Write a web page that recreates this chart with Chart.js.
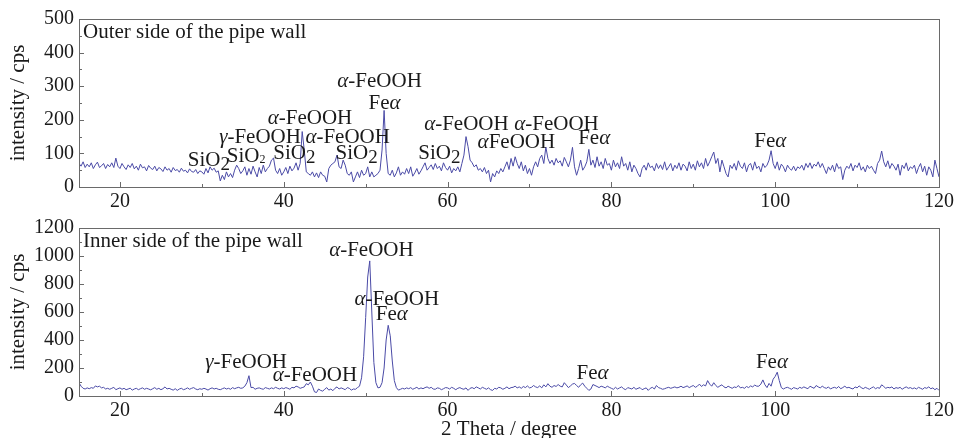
<!DOCTYPE html>
<html>
<head>
<meta charset="utf-8">
<script src="https://cdn.jsdelivr.net/npm/chart.js@4.4.0/dist/chart.umd.min.js"></script>
<style>
  body { margin: 0; background: #fff; }
  #wrap { position: relative; width: 957px; height: 438px; }
  .panel { position: absolute; left: 0; width: 957px; }
</style>
</head>
<body>
<div id="wrap">
  <div class="panel" style="top:0;height:210px"><canvas id="chart1"></canvas></div>
  <div class="panel" style="top:210px;height:228px"><canvas id="chart2"></canvas></div>
</div>
<script>
// 2 theta grid: 15 .. 120 in 0.25 degree steps
var angleStart = 15;
var angleStep = 0.25;

// outer side of the pipe wall, cps (4 values per degree, rows start at 15, 16, ...)
var outerIntensity = [
  70, 62, 75, 58,   68, 60, 72, 55,   66, 74, 58, 63,   70, 55, 67, 60,   72, 58, 86, 62,
  55, 70, 60, 52,   66, 58, 70, 54,   62, 50, 68, 57,   60, 48, 64, 56,   52, 62, 48, 58,
  54, 46, 60, 50,   55, 44, 58, 49,   52, 44, 56, 47,   50, 42, 54, 46,   44, 52, 40, 48,
  45, 38, 55, 42,   60, 50, 56, 44,   48, 18, 35, 22,   45, 30, 40, 28,   50, 65, 55, 40,
  48, 60, 35, 55,   38, 62, 45, 30,   58, 40, 65, 45,   55, 62, 80, 86,   50, 40, 55, 35,
  45, 58, 40, 62,   48, 56, 72, 50,   70, 165, 110, 45, 40, 35, 45, 30,   42, 28, 45, 35,
  32, 15, 55, 65,   70, 75, 95, 60,   55, 80, 65, 40,   35, 45, 15, 30,   45, 28, 50, 35,
  40, 60, 30, 45,   30, 35, 40, 50,   110, 228, 100, 40, 35, 50, 30, 42,  60, 35, 45, 38,
  55, 40, 60, 32,   42, 55, 38, 48,   60, 72, 50, 58,   66, 52, 70, 55,   62, 48, 72, 58,
  50, 62, 42, 55,   48, 60, 45, 70,   95, 150, 120, 80, 72, 60, 66, 50,   55, 45, 58, 40,
  50, 15, 40, 30,   48, 40, 55, 45,   60, 75, 52, 85,   62, 90, 70, 55,   75, 48, 65, 40,
  55, 35, 60, 75,   60, 85, 95, 70,   119, 85, 70, 80,  65, 85, 72, 78,   62, 88, 75, 60,
  80, 118, 60, 35,  55, 80, 50, 60,   75, 112, 65, 80,  58, 90, 62, 75,   55, 85, 65, 70,
  50, 80, 60, 72,   55, 90, 62, 70,   50, 75, 45, 65,   55, 40, 30, 55,   65, 50, 72, 58,
  62, 48, 70, 55,   66, 52, 75, 50,   60, 70, 48, 65,   55, 72, 50, 68,   62, 48, 75, 55,
  68, 50, 78, 60,   72, 55, 85, 62,   75, 90, 104, 70,  85, 45, 80, 60,   40, 30, 65, 55,
  70, 50, 78, 62,   55, 72, 45, 65,   70, 50, 75, 55,   62, 45, 70, 58,   65, 80, 108, 70,
  55, 75, 50, 68,   60, 45, 65, 55,   50, 62, 48, 60,   55, 65, 50, 70,   58, 72, 55, 68,
  62, 75, 58, 70,   55, 40, 60, 50,   65, 45, 70, 55,   60, 22, 50, 62,   55, 70, 48, 65,
  58, 72, 50, 60,   45, 65, 55, 62,   50, 40, 70, 80,   107, 75, 60, 78,  55, 70, 62, 50,
  68, 35, 65, 55,   72, 48, 60, 55,   65, 40, 58, 70,   45, 62, 35, 60,   50, 30, 80, 55,
  30
];

// inner side of the pipe wall, cps
var innerIntensity = [
  95, 70, 55, 50,   58, 52, 60, 55,   72, 65, 70, 58,   62, 50, 55, 48,   55, 62, 45, 52,
  58, 48, 55, 45,   50, 56, 42, 50,   55, 45, 52, 58,   48, 55, 50, 44,   52, 60, 48, 55,
  45, 52, 65, 50,   55, 48, 42, 52,   40, 50, 55, 45,   50, 58, 48, 55,   60, 50, 45, 52,
  48, 55, 50, 42,   52, 58, 50, 55,   48, 45, 52, 58,   50, 55, 48, 60,   52, 58, 62, 55,
  58, 70, 95, 145,  60, 62, 48, 55,   58, 52, 48, 60,   55, 50, 58, 52,   62, 55, 50, 58,
  52, 60, 55, 48,   62, 58, 70, 65,   55, 60, 65, 88,   80, 100, 70, 30,  25, 50, 40, 35,
  48, 60, 42, 50,   38, 55, 65, 50,   58, 52, 45, 60,   55, 42, 50, 48,   60, 70, 130, 280,
  560, 850, 965, 600, 240, 95, 58, 62, 95, 200, 400, 505, 430, 250, 110, 60, 42, 48, 55, 50,
  58, 52, 60, 48,   55, 62, 50, 58,   52, 60, 65, 55,   62, 50, 48, 58,   55, 45, 52, 60,
  58, 50, 62, 55,   45, 55, 60, 52,   48, 58, 40, 55,   60, 52, 65, 58,   50, 62, 55, 48,
  58, 45, 40, 55,   50, 62, 58, 48,   55, 65, 52, 60,   62, 70, 58, 65,   55, 68, 60, 72,
  58, 62, 75, 65,   60, 72, 58, 80,   65, 88, 70, 62,   75, 68, 82, 70,   65, 95, 78, 60,
  72, 85, 90, 75,   62, 80, 92, 70,   55, 40, 50, 82,   75, 68, 60, 70,   65, 58, 70, 62,
  55, 48, 62, 50,   58, 65, 52, 45,   60, 55, 50, 62,   48, 55, 60, 45,   52, 58, 40, 55,
  62, 50, 75, 60,   55, 48, 52, 58,   62, 55, 60, 65,   58, 62, 70, 60,   65, 72, 60, 68,
  75, 62, 70, 85,   68, 80, 72, 110,  85, 70, 95, 75,   62, 72, 80, 65,   58, 70, 62, 55,
  65, 60, 75, 58,   62, 55, 68, 60,   72, 65, 78, 70,   70, 85, 115, 80,  60, 90, 70, 120,
  140, 170, 110, 60, 50, 58, 62, 55,  48, 60, 55, 50,   62, 55, 65, 58,   52, 70, 62, 55,
  75, 65, 58, 70,   60, 55, 65, 50,   58, 62, 55, 68,   52, 60, 70, 58,   62, 55, 50, 65,
  58, 72, 60, 52,   62, 55, 48, 58,   65, 52, 60, 55,   80, 68, 55, 62,   58, 65, 50, 60,
  55, 62, 48, 58,   65, 55, 60, 52,   58, 50, 62, 55,   48, 60, 55, 65,   52, 58, 45, 55,
  40
];

var xTicks = [20, 40, 60, 80, 100, 120];
var outerYTicks = [0, 100, 200, 300, 400, 500];
var innerYTicks = [0, 200, 400, 600, 800, 1000, 1200];

// peak labels: [text, 2 theta, intensity]
var outerLabels = [
  ['SiO2', 30.85, 80],
  ['SiO₂', 35.4, 92],
  ['γ-FeOOH', 37.1, 146],
  ['α-FeOOH', 43.2, 205],
  ['SiO2', 41.3, 101],
  ['α-FeOOH', 47.8, 146],
  ['SiO2', 48.9, 101],
  ['α-FeOOH', 51.7, 315],
  ['Feα', 52.3, 248],
  ['SiO2', 59.0, 101],
  ['α-FeOOH', 62.3, 185],
  ['αFeOOH', 68.4, 131],
  ['α-FeOOH', 73.3, 185],
  ['Feα', 77.9, 143],
  ['Feα', 99.4, 135]
];
var innerLabels = [
  ['α-FeOOH', 50.7, 1036],
  ['α-FeOOH', 53.8, 686],
  ['Feα', 53.2, 579],
  ['γ-FeOOH', 35.4, 236],
  ['α-FeOOH', 43.8, 143],
  ['Feα', 77.7, 164],
  ['Feα', 99.6, 236]
];

var fam = '"Liberation Serif", "DejaVu Serif", serif';
var textColor = '#1a1a1a';

var points = function (values) {
  return values.map(function (v, i) {
    return { x: angleStart + i * angleStep, y: v };
  });
};

// split a label into font runs: greek letters italic, O2 -> subscript
var runs = function (text) {
  var out = [];
  for (var i = 0; i < text.length; i++) {
    var c = text[i];
    var r;
    if (c === 'α' || c === 'γ') r = { t: c, f: 'italic 21px ' + fam, dy: 0 };
    else if (c === '₂') r = { t: '2', f: '12px ' + fam, dy: 4 };
    else if (c === '2' && text[i - 1] === 'O') r = { t: '2', f: '19px ' + fam, dy: 5 };
    else r = { t: c, f: '21px ' + fam, dy: 0 };
    var last = out[out.length - 1];
    if (last && last.f === r.f && last.dy === r.dy) last.t += r.t;
    else out.push(r);
  }
  return out;
};

var drawRich = function (ctx, text, cx, cy) {
  var parts = runs(text);
  var total = 0;
  parts.forEach(function (p) { ctx.font = p.f; p.w = ctx.measureText(p.t).width; total += p.w; });
  var x = cx - total / 2;
  ctx.textAlign = 'left';
  ctx.textBaseline = 'middle';
  parts.forEach(function (p) {
    ctx.font = p.f;
    ctx.fillText(p.t, x, cy + p.dy);
    x += p.w;
  });
};

// box round the plot area, inward ticks, peak labels
var framePlugin = {
  id: 'frame',
  afterDatasetsDraw: function (chart, args, opts) {
    var ctx = chart.ctx, a = chart.chartArea;
    var xs = chart.scales.x, ys = chart.scales.y;
    ctx.save();
    ctx.strokeStyle = '#6a6a6a';
    ctx.lineWidth = 1;
    ctx.beginPath();
    for (var v = 20; v <= 120; v += 10) {
      var px = Math.round(xs.getPixelForValue(v)) + 0.5;
      var len = (v % 20 === 0) ? 5 : 3;
      ctx.moveTo(px, a.bottom);
      ctx.lineTo(px, a.bottom - len);
    }
    for (var w = 0; w <= ys.max; w += opts.minorStep) {
      var py = Math.round(ys.getPixelForValue(w)) + 0.5;
      var len2 = (w % (opts.minorStep * 2) === 0) ? 5 : 3;
      ctx.moveTo(a.left, py);
      ctx.lineTo(a.left + len2, py);
    }
    ctx.stroke();
    ctx.strokeRect(Math.round(a.left) + 0.5, Math.round(a.top) + 0.5,
      Math.round(a.right - a.left), Math.round(a.bottom - a.top));

    ctx.fillStyle = textColor;
    ctx.font = '21px ' + fam;
    ctx.textAlign = 'left';
    ctx.textBaseline = 'alphabetic';
    ctx.fillText(opts.corner, a.left + 4, a.top + 19);
    opts.labels.forEach(function (l) {
      drawRich(ctx, l[0], xs.getPixelForValue(l[1]), ys.getPixelForValue(l[2]));
    });
    ctx.restore();
  }
};

var makeChart = function (id, values, yMax, yTicks, minorStep, labels, corner, xHeight, padTop, showXTitle) {
  var config = {
    type: 'line',
    data: {
      datasets: [{
        data: points(values),
        borderColor: '#4a4aa6',
        borderWidth: 1,
        pointRadius: 0,
        tension: 0,
        fill: false
      }]
    },
    options: {
      responsive: true,
      maintainAspectRatio: false,
      animation: false,
      layout: { padding: { top: padTop, right: 17, left: 0, bottom: 0 } },
      plugins: {
        legend: { display: false },
        tooltip: { enabled: false },
        frame: { labels: labels, corner: corner, minorStep: minorStep }
      },
      scales: {
        x: {
          type: 'linear',
          min: 15,
          max: 120,
          afterBuildTicks: function (s) { s.ticks = xTicks.map(function (v) { return { value: v }; }); },
          afterFit: function (s) { s.height = xHeight; },
          grid: { display: false, drawTicks: false },
          border: { display: false },
          ticks: {
            color: textColor, font: { family: fam, size: 20 }, padding: 3, maxRotation: 0, autoSkip: false,
            callback: function (v) { return String(v); }
          },
          title: {
            display: showXTitle,
            text: '2 Theta / degree',
            color: textColor,
            font: { family: fam, size: 21, lineHeight: 0.85 },
            padding: { top: 0, bottom: 0 }
          }
        },
        y: {
          min: 0,
          max: yMax,
          afterBuildTicks: function (s) { s.ticks = yTicks.map(function (v) { return { value: v }; }); },
          afterFit: function (s) { s.width = 79; },
          grid: { display: false, drawTicks: false },
          border: { display: false },
          ticks: {
            color: textColor, font: { family: fam, size: 20 }, padding: 5,
            callback: function (v) { return String(v); }
          },
          title: {
            display: true,
            text: 'intensity / cps',
            color: textColor,
            font: { family: fam, size: 21, lineHeight: 1.1 },
            padding: { top: 7, bottom: 0 }
          }
        }
      }
    },
    plugins: [framePlugin]
  };
  return new Chart(document.getElementById(id), config);
};

var chart1 = makeChart('chart1', outerIntensity, 500, outerYTicks, 50, outerLabels,
  'Outer side of the pipe wall', 23, 19, false);
var chart2 = makeChart('chart2', innerIntensity, 1200, innerYTicks, 100, innerLabels,
  'Inner side of the pipe wall', 42, 18, true);
</script>
</body>
</html>
